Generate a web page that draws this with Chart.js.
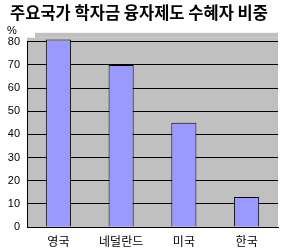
<!DOCTYPE html>
<html>
<head>
<meta charset="utf-8">
<script src="https://cdn.jsdelivr.net/npm/chart.js@4"></script>
<style>
html, body { margin: 0; padding: 0; background: #fff; }
#wrap { width: 288px; height: 251px; }
</style>
</head>
<body>
<div id="wrap"><canvas id="chart"></canvas></div>
<script>
var countries = ["영국", "네덜란드", "미국", "한국"];
var shares = [81, 70, 45, 13];
var titleText = "주요국가 학자금 융자제도 수혜자 비중";
var unitLabel = "%";

var fontFamily = "'Liberation Sans', 'Noto Sans CJK KR', sans-serif";

// gray plot wall + unit label
var wallPlugin = {
    id: "wall",
    beforeDraw: function(chart) {
        var a = chart.chartArea, ctx = chart.ctx;
        ctx.save();
        ctx.fillStyle = "#C0C0C0";
        ctx.fillRect(a.left, a.top - 4, a.right - a.left, a.bottom - a.top + 4);
        ctx.fillRect(a.left + 8, a.top - 9, a.right - a.left - 8, 5);
        ctx.restore();
    },
    afterDraw: function(chart) {
        var a = chart.chartArea, ctx = chart.ctx;
        ctx.save();
        ctx.fillStyle = "#000";
        ctx.font = "11px " + fontFamily;
        ctx.textAlign = "center";
        ctx.textBaseline = "middle";
        ctx.fillText(unitLabel, 12, a.top - 11);
        ctx.restore();
    }
};

new Chart(document.getElementById("chart"), {
    type: "bar",
    data: {
        labels: countries,
        datasets: [{
            data: shares,
            backgroundColor: "#9999FF",
            borderColor: "#000",
            borderWidth: 1,
            categoryPercentage: 1,
            barPercentage: 0.4,
            clip: false
        }]
    },
    options: {
        responsive: true,
        maintainAspectRatio: false,
        animation: false,
        layout: { padding: { left: 0, right: 10, top: 0, bottom: 0 } },
        plugins: {
            legend: { display: false },
            tooltip: { enabled: false },
            title: {
                display: true,
                text: titleText,
                color: "#000",
                font: { family: "'Noto Sans CJK KR', sans-serif", size: 16.5, weight: "bold" },
                padding: { top: 3, bottom: 19 }
            }
        },
        scales: {
            x: {
                grid: { display: false },
                border: { display: true, color: "#000", width: 1 },
                ticks: { color: "#000", font: { family: fontFamily, size: 12 }, padding: 0 },
                afterFit: function(s) { s.height = 24; }
            },
            y: {
                min: 0,
                max: 80,
                ticks: { stepSize: 10, color: "#000", font: { family: fontFamily, size: 11 }, padding: 7 },
                grid: { color: "#000", lineWidth: 1, drawTicks: false },
                border: { display: true, color: "#000", width: 1 },
                afterFit: function(s) { s.width = 27; }
            }
        }
    },
    plugins: [wallPlugin]
});
</script>
</body>
</html>
